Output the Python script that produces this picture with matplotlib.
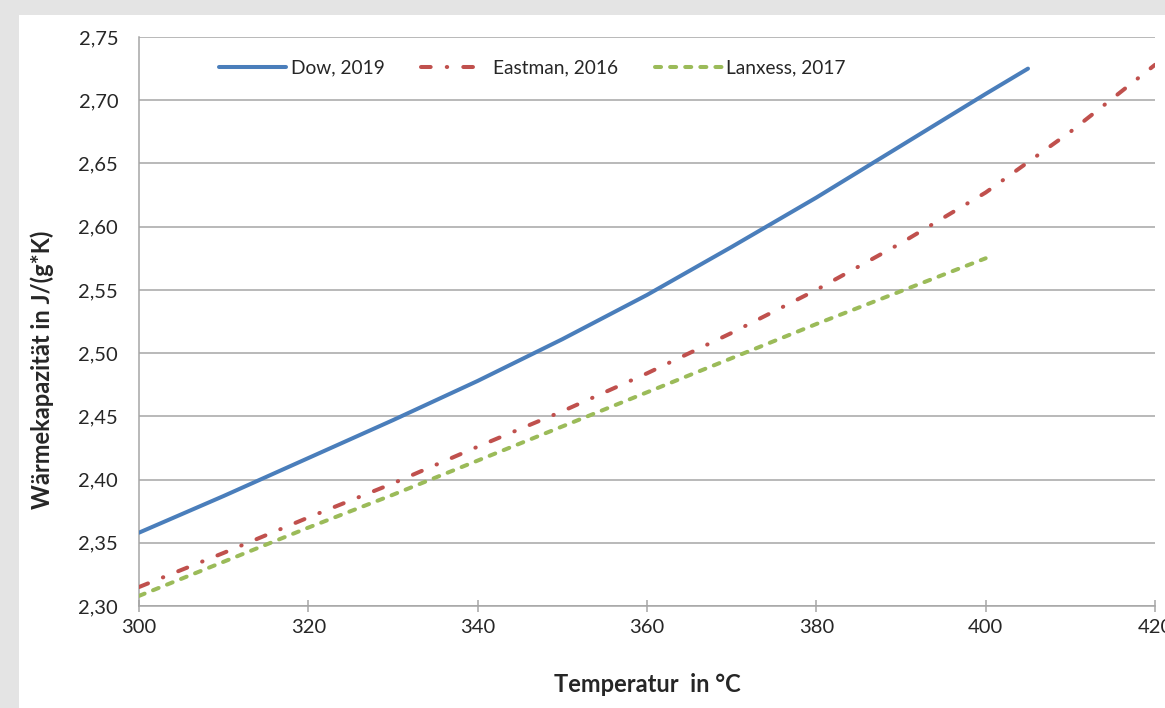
import matplotlib.pyplot as plt
from matplotlib.patches import Rectangle
from matplotlib.ticker import FuncFormatter

# Daten
temp_dow = [300, 310, 320, 330, 340, 350, 360, 370, 380, 390, 400, 405]
cp_dow = [2.358, 2.387, 2.417, 2.447, 2.478, 2.511, 2.546, 2.584, 2.623, 2.664, 2.705, 2.725]

temp_east = [300, 310, 320, 330, 340, 350, 360, 370, 380, 390, 400, 410, 420]
cp_east = [2.315, 2.342, 2.370, 2.397, 2.426, 2.454, 2.484, 2.516, 2.550, 2.587, 2.627, 2.675, 2.728]

temp_lanx = [300, 310, 320, 330, 340, 350, 360, 370, 380, 390, 400]
cp_lanx = [2.308, 2.335, 2.362, 2.388, 2.415, 2.442, 2.469, 2.496, 2.523, 2.549, 2.575]

labels = ['Dow, 2019', 'Eastman, 2016', 'Lanxess, 2017']

plt.rcParams['font.family'] = ['Lato', 'DejaVu Sans']

fig = plt.figure(figsize=(11.65, 7.08), dpi=100)
fig.patch.set_facecolor('#e4e4e4')
# weisser Diagrammbereich
fig.add_artist(Rectangle((19 / 1165, 0), 1.0, 1 - 15 / 708, transform=fig.transFigure,
                         facecolor='white', edgecolor='none', zorder=-10))

ax = fig.add_axes([139 / 1165, 102 / 708, 1016 / 1165, 569 / 708])
ax.set_facecolor('none')

lw = 2.9
ax.plot(temp_dow, cp_dow, color='#4a7ebb', lw=lw, solid_capstyle='round', label=labels[0], zorder=3)
ax.plot(temp_east, cp_east, color='#c0504d', lw=lw, linestyle=(0, (2.4, 4, 0.1, 4)),
        dash_capstyle='round', label=labels[1], zorder=3)
ax.plot(temp_lanx, cp_lanx, color='#9bbb59', lw=lw, linestyle=(0, (1.5, 2.25)),
        dash_capstyle='round', label=labels[2], zorder=3)

ax.set_xlim(300, 420)
ax.set_ylim(2.30, 2.75)
ax.set_xticks(range(300, 421, 20))
ax.set_yticks([2.30 + 0.05 * i for i in range(10)])
ax.yaxis.set_major_formatter(FuncFormatter(lambda v, p: f'{v:.2f}'.replace('.', ',')))

ax.grid(axis='y', color='#a6a6a6', lw=1.1)
ax.set_axisbelow(True)
for s in ['top', 'right']:
    ax.spines[s].set_visible(False)
for s in ['left', 'bottom']:
    ax.spines[s].set_color('#a6a6a6')
    ax.spines[s].set_linewidth(1.1)

ax.tick_params(axis='x', direction='inout', length=9, width=1.1, color='#a6a6a6',
               labelsize=14.5, labelcolor='#262626', pad=5)
ax.tick_params(axis='y', length=0, labelsize=14.5, labelcolor='#262626', pad=15)

fig.text(647 / 1165, 1 - 685 / 708, 'Temperatur  in °C', ha='center', va='center',
         fontsize=17, fontweight='bold', color='#262626')
fig.text(42 / 1165, 1 - 370 / 708, 'Wärmekapazität in J/(g*K)', ha='center', va='center',
         rotation=90, fontsize=17, fontweight='bold', color='#262626')

fig.legend(loc='center', bbox_to_anchor=(0.457, 0.904), ncol=3, frameon=False,
           fontsize=13.8, handlelength=3.5, handletextpad=0.25, columnspacing=1.9,
           labelcolor='#262626')

plt.savefig('out.png', dpi=100)
